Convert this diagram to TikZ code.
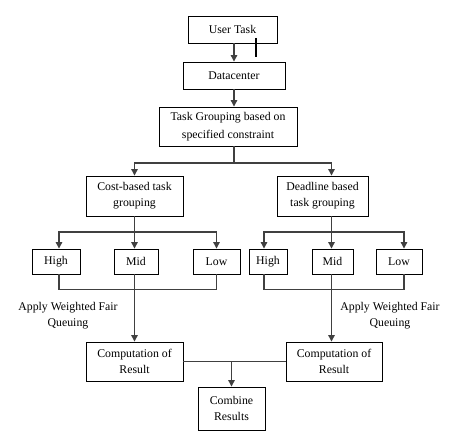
\documentclass[tikz,border=0pt]{standalone}
\usepackage{fontspec}
\setmainfont{Liberation Serif}
\usetikzlibrary{arrows.meta,calc}
\begin{document}
\begin{tikzpicture}[x=1pt,y=-1pt,
  box/.style={draw=black,line width=0.9pt,fill=white,inner sep=1pt,align=center,font=\fontsize{11.8}{16}\selectfont},
  conn/.style={draw=black!75,line width=1.2pt},
  arr/.style={conn,-{Triangle[width=6.5pt,length=6.5pt]}},
  lbl/.style={align=center,font=\fontsize{11.8}{16}\selectfont,inner sep=0pt}]
\useasboundingbox (0,0) rectangle (452,435);
\fill[white] (0,0) rectangle (452,435);
% boxes
\node[box,minimum width=89pt,minimum height=27pt] (user) at (232.5,29.5) {User Task};
\node[box,minimum width=102pt,minimum height=27pt] (dc) at (234,75.5) {Datacenter};
\node[box,minimum width=138pt,minimum height=39pt,font=\fontsize{11.8}{18}\selectfont] (tg) at (228,126.5) {Task Grouping based on\\specified constraint};
\node[box,minimum width=97pt,minimum height=40pt] (cost) at (134.5,196) {Cost-based task\\grouping};
\node[box,minimum width=91pt,minimum height=40pt] (dl) at (322.5,196) {Deadline based\\task grouping};
\node[box,minimum width=48pt,minimum height=25pt] (h1) at (56,261.5) {High};
\node[box,minimum width=44pt,minimum height=25pt] (m1) at (136,261.5) {Mid};
\node[box,minimum width=47pt,minimum height=25pt] (l1) at (216.5,261.5) {Low};
\node[box,minimum width=38pt,minimum height=25pt] (h2) at (268,261.5) {High};
\node[box,minimum width=41pt,minimum height=25pt] (m2) at (332.5,261.5) {Mid};
\node[box,minimum width=46pt,minimum height=25pt] (l2) at (399,261.5) {Low};
\node[box,minimum width=97pt,minimum height=39pt] (c1) at (134.5,361.5) {Computation of\\Result};
\node[box,minimum width=96pt,minimum height=39pt] (c2) at (334,361.5) {Computation of\\Result};
\node[box,minimum width=67pt,minimum height=43pt] (comb) at (231.5,408.5) {Combine\\Results};
% labels
\node[lbl] (lab1) at (68,316) {Apply Weighted Fair\\Queuing};
\node[lbl] (lab2) at (390,316) {Apply Weighted Fair\\Queuing};
% spine coordinates
\coordinate (sp) at (234,0);
\coordinate (ls) at (134.5,0);
\coordinate (rs) at (331.5,0);
\coordinate (split) at (234,163);
\coordinate (csplit) at (134.5,232);
\coordinate (dsplit) at (331.5,232);
\coordinate (stubA) at (256,38);
\coordinate (stubB) at (256,57);
% connectors
\draw[arr] (user.south -| sp) -- (dc.north -| sp);
\draw[arr] (dc.south -| sp) -- (tg.north -| sp);
\draw[conn] (tg.south -| sp) -- (split);
\draw[arr] (split) -| (cost.north -| ls);
\draw[arr] (split) -| (dl.north -| rs);
\draw[conn] (cost.south -| ls) -- (csplit);
\draw[arr] (csplit) -| ($(h1.north)+(3,0)$);
\draw[arr] (csplit) -- (m1.north -| ls);
\draw[arr] (csplit) -| (l1.north);
\draw[conn] (dl.south -| rs) -- (dsplit);
\draw[arr] (dsplit) -| ($(h2.north)+(-4,0)$);
\draw[arr] (dsplit) -- (m2.north -| rs);
\draw[arr] (dsplit) -| ($(l2.north)+(5,0)$);
\draw[conn] ($(h1.south)+(3,0)$) -- ++(0,15) -| (l1.south);
\draw[conn] ($(h2.south)+(-4,0)$) -- ++(0,15) -| ($(l2.south)+(5,0)$);
\draw[arr] (m1.south -| ls) -- (c1.north -| ls);
\draw[arr] (m2.south -| rs) -- (c2.north -| rs);
\draw[conn] (c1.east) -- (c2.west);
\draw[arr] (comb.north |- c1.east) -- (comb.north);
\draw[line width=1.6pt,black] (stubA) -- (stubB);
\end{tikzpicture}
\end{document}
